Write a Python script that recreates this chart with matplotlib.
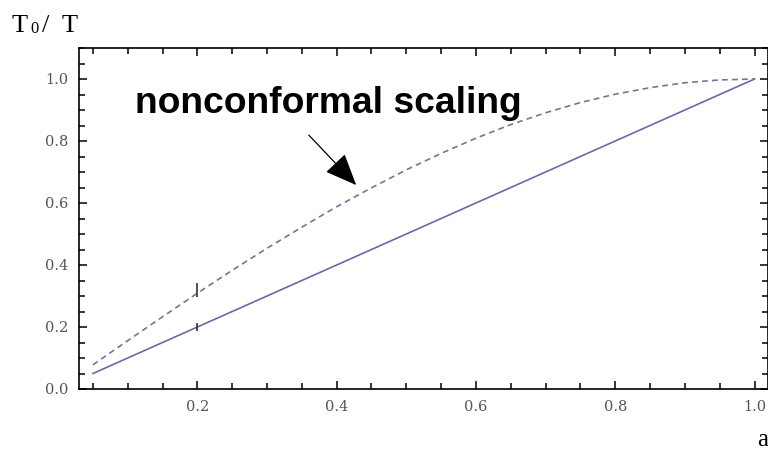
import numpy as np
import matplotlib
matplotlib.use("Agg")
import matplotlib.pyplot as plt
from matplotlib.ticker import MultipleLocator

# values
a_vals = [0.05, 0.10, 0.15, 0.20, 0.25, 0.30, 0.35, 0.40, 0.45, 0.50,
          0.55, 0.60, 0.65, 0.70, 0.75, 0.80, 0.85, 0.90, 0.95, 1.00]
nonconformal = [0.078, 0.156, 0.233, 0.309, 0.383, 0.454, 0.522, 0.588, 0.649, 0.707,
                0.760, 0.809, 0.853, 0.891, 0.924, 0.951, 0.972, 0.988, 0.997, 1.000]
conformal_a = [0.05, 1.00]
conformal = [0.05, 1.00]
mark_a = [0.2]
mark_nonconf = [0.32]
mark_conf = [0.2]

label_text = "nonconformal scaling"
arrow_tip = (0.428, 0.658)
arrow_tail = (0.360, 0.819)

W, H = 768, 450
fig = plt.figure(figsize=(7.68, 4.5), dpi=100)
ax = fig.add_axes([79 / W, 1 - 389 / H, 1 - 79 / W - 0.0006, (389 - 48) / H])

ax.plot(conformal_a, conformal, color="#6a68aa", lw=1.2)
ax.plot(a_vals, nonconformal, color="#75759c", lw=1.2, linestyle=(0, (3.5, 2.5)))
ax.plot(mark_a, mark_nonconf, marker="|", markersize=10, color="#333333", mew=1.2, ls="none")
ax.plot(mark_a, mark_conf, marker="|", markersize=6, color="#333333", mew=1.2, ls="none")

ax.set_xlim(0.03, 1.0187)
ax.set_ylim(0.0, 1.1)

ax.xaxis.set_major_locator(MultipleLocator(0.2))
ax.xaxis.set_minor_locator(MultipleLocator(0.05))
ax.yaxis.set_major_locator(MultipleLocator(0.2))
ax.yaxis.set_minor_locator(MultipleLocator(0.05))
ax.xaxis.set_major_formatter(lambda v, p: f"{v:.1f}")
ax.yaxis.set_major_formatter(lambda v, p: f"{v:.1f}")

ax.tick_params(which="both", direction="in", top=True, right=True,
               width=1.1, colors="black", labelcolor="#555555",
               labelsize=10.5, pad=8)
ax.tick_params(which="major", length=6)
ax.tick_params(which="minor", length=4)
for lab in ax.get_xticklabels() + ax.get_yticklabels():
    lab.set_family("DejaVu Serif")

for s in ax.spines.values():
    s.set_linewidth(1.2)

ax.text(0.110, 0.89, label_text, fontsize=26.8, fontweight="bold",
        family="Liberation Sans", ha="left", va="baseline")
ax.annotate("", xy=arrow_tip, xytext=arrow_tail,
            arrowprops=dict(arrowstyle="-|>,head_length=1.0,head_width=0.42",
                            mutation_scale=20, lw=0.9, color="black",
                            shrinkA=0, shrinkB=0))

# y-axis title  T0 / T
serif = "Liberation Serif"
fig.text(12 / W, 1 - 32 / H, "T", fontsize=19, family=serif, va="baseline")
fig.text(30 / W, 1 - 33 / H, "0", fontsize=12, family=serif, va="baseline")
fig.text(42 / W, 1 - 32 / H, "/", fontsize=19, family=serif, va="baseline")
fig.text(62 / W, 1 - 32 / H, "T", fontsize=19, family=serif, va="baseline")
# x-axis title
fig.text(757 / W, 1 - 446 / H, "a", fontsize=18, family=serif, va="baseline")

fig.savefig("out.png", dpi=100, facecolor="white")
